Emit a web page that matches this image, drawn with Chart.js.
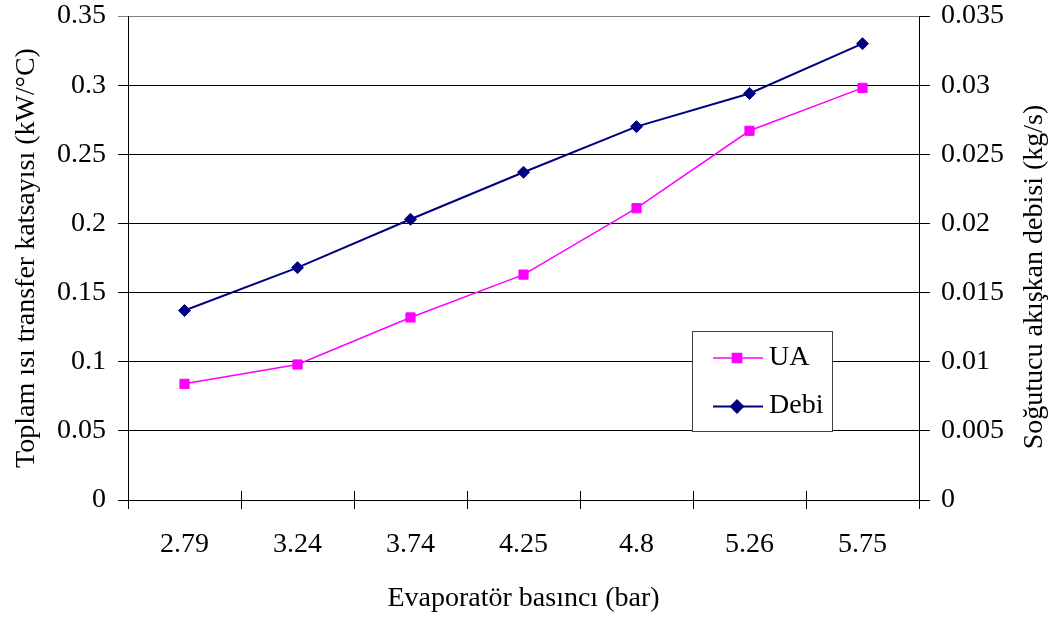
<!DOCTYPE html>
<html>
<head>
<meta charset="utf-8">
<script src="https://cdn.jsdelivr.net/npm/chart.js@4.4.1/dist/chart.umd.min.js"></script>
<style>
	html, body { margin: 0; padding: 0; background: #fff; }
</style>
</head>
<body>
<canvas id="grafico" width="1054" height="617"></canvas>
<script>
/* Datos */
const basinc = ["2.79", "3.24", "3.74", "4.25", "4.8", "5.26", "5.75"];
const ua = [0.084, 0.098, 0.132, 0.163, 0.211, 0.267, 0.298];
const debi = [0.0137, 0.0168, 0.0203, 0.0237, 0.027, 0.0294, 0.033];

const fuente = "Liberation Serif, 'Times New Roman', serif";
const tituloIzq = "Toplam ısı transfer katsayısı (kW/°C)";
const tituloDer = "Soğutucu akışkan debisi (kg/s)";
const tituloX = "Evaporatör basıncı (bar)";

function numero(v) {
	return String(parseFloat(v.toFixed(4)));
}

// Leyenda dentro del área del gráfico
const leyendaPlugin = {
	id: "leyendaCaja",
	afterDatasetsDraw(chart) {
		const ctx = chart.ctx;
		ctx.save();
		ctx.fillStyle = "#fff";
		ctx.fillRect(692, 331, 140, 100);
		ctx.strokeStyle = "#404040";
		ctx.lineWidth = 1;
		ctx.strokeRect(692.5, 331.5, 140, 100);
		chart.data.datasets.forEach((ds, i) => {
			const y = 358 + i * 48.5;
			ctx.strokeStyle = ds.borderColor;
			ctx.lineWidth = ds.borderWidth;
			ctx.beginPath();
			ctx.moveTo(713, y);
			ctx.lineTo(763, y);
			ctx.stroke();
			ctx.fillStyle = ds.backgroundColor;
			Chart.helpers.drawPoint(ctx, { pointStyle: ds.pointStyle, radius: ds.pointRadius, borderWidth: 1 }, 737, y);
			ctx.fillStyle = "#000";
			ctx.font = "28px " + fuente;
			ctx.textAlign = "left";
			ctx.textBaseline = "middle";
			ctx.fillText(ds.label, 769, y - 0.5);
		});
		ctx.restore();
	},
};

// Título del eje derecho (de abajo hacia arriba) y marcas que cruzan el eje X
const extrasPlugin = {
	id: "extras",
	afterDraw(chart) {
		const ctx = chart.ctx;
		const x = chart.scales.x;
		const area = chart.chartArea;
		ctx.save();
		ctx.strokeStyle = "#000";
		ctx.lineWidth = 1;
		for (let i = 0; i <= basinc.length; i++) {
			const px = Math.round(x.getPixelForValue(i - 0.5)) + 0.5;
			ctx.beginPath();
			ctx.moveTo(px, area.bottom - 9);
			ctx.lineTo(px, area.bottom);
			ctx.stroke();
		}
		ctx.translate(1034.5, 277);
		ctx.rotate(-Math.PI / 2);
		ctx.fillStyle = "#000";
		ctx.font = "28px " + fuente;
		ctx.textAlign = "center";
		ctx.textBaseline = "middle";
		ctx.fillText(tituloDer, 0, 0);
		ctx.restore();
	},
};

// Sin relleno extra arriba/abajo para los ejes verticales
function sinRelleno(s) {
	s.paddingTop = 0;
	s.paddingBottom = 0;
}

const plotRef = document.getElementById("grafico");

let config = {
	type: "line",
	data: {
		labels: basinc,
		datasets: [
			{
				label: "UA",
				data: ua,
				yAxisID: "y",
				borderColor: "#ff00ff",
				backgroundColor: "#ff00ff",
				borderWidth: 1.5,
				pointStyle: "rect",
				pointRadius: 6.5,
				pointBorderWidth: 1,
				tension: 0,
			},
			{
				label: "Debi",
				data: debi,
				yAxisID: "y1",
				borderColor: "#000080",
				backgroundColor: "#000080",
				borderWidth: 2,
				pointStyle: "rectRot",
				pointRadius: 6,
				pointBorderWidth: 1,
				tension: 0,
			},
		],
	},
	options: {
		responsive: false,
		animation: false,
		devicePixelRatio: 1,
		layout: { padding: { top: 16, left: 0, right: 0, bottom: 0 } },
		plugins: { legend: { display: false }, tooltip: { enabled: false } },
		scales: {
			x: {
				type: "category",
				offset: true,
				grid: { offset: true, drawOnChartArea: false, drawTicks: true, tickLength: 9, color: "#000" },
				border: { color: "#000", width: 1 },
				ticks: {
					color: "#000",
					font: { family: fuente, size: 28, lineHeight: 1 },
					padding: 22,
					maxRotation: 0,
					autoSkip: false,
				},
				title: {
					display: true,
					text: tituloX,
					color: "#000",
					font: { family: fuente, size: 28 },
					padding: { top: 0, bottom: 2 },
				},
				afterFit: (s) => { s.height = 117; },
			},
			y: {
				position: "left",
				min: 0,
				max: 0.35,
				grid: {
					color: (c) => (c.tick && c.tick.value >= 0.349 ? "#808080" : "#000"),
					tickLength: 10,
				},
				border: { color: "#000", width: 1 },
				ticks: {
					stepSize: 0.05,
					color: "#000",
					font: { family: fuente, size: 28, lineHeight: 1 },
					padding: 12,
					callback: (v) => numero(v),
				},
				title: {
					display: true,
					text: tituloIzq,
					color: "#000",
					font: { family: fuente, size: 28 },
					padding: { top: 10, bottom: 0 },
				},
				afterFit: (s) => { s.width = 128; sinRelleno(s); },
			},
			y1: {
				position: "right",
				min: 0,
				max: 0.035,
				grid: { drawOnChartArea: false, tickLength: 11, color: "#000" },
				border: { color: "#000", width: 1 },
				ticks: {
					stepSize: 0.005,
					color: "#000",
					font: { family: fuente, size: 28, lineHeight: 1 },
					padding: 11,
					callback: (v) => numero(v),
				},
				afterFit: (s) => { s.width = 135; sinRelleno(s); },
			},
		},
	},
	plugins: [leyendaPlugin, extrasPlugin],
};

let chart = new Chart(plotRef, config);
</script>
</body>
</html>
